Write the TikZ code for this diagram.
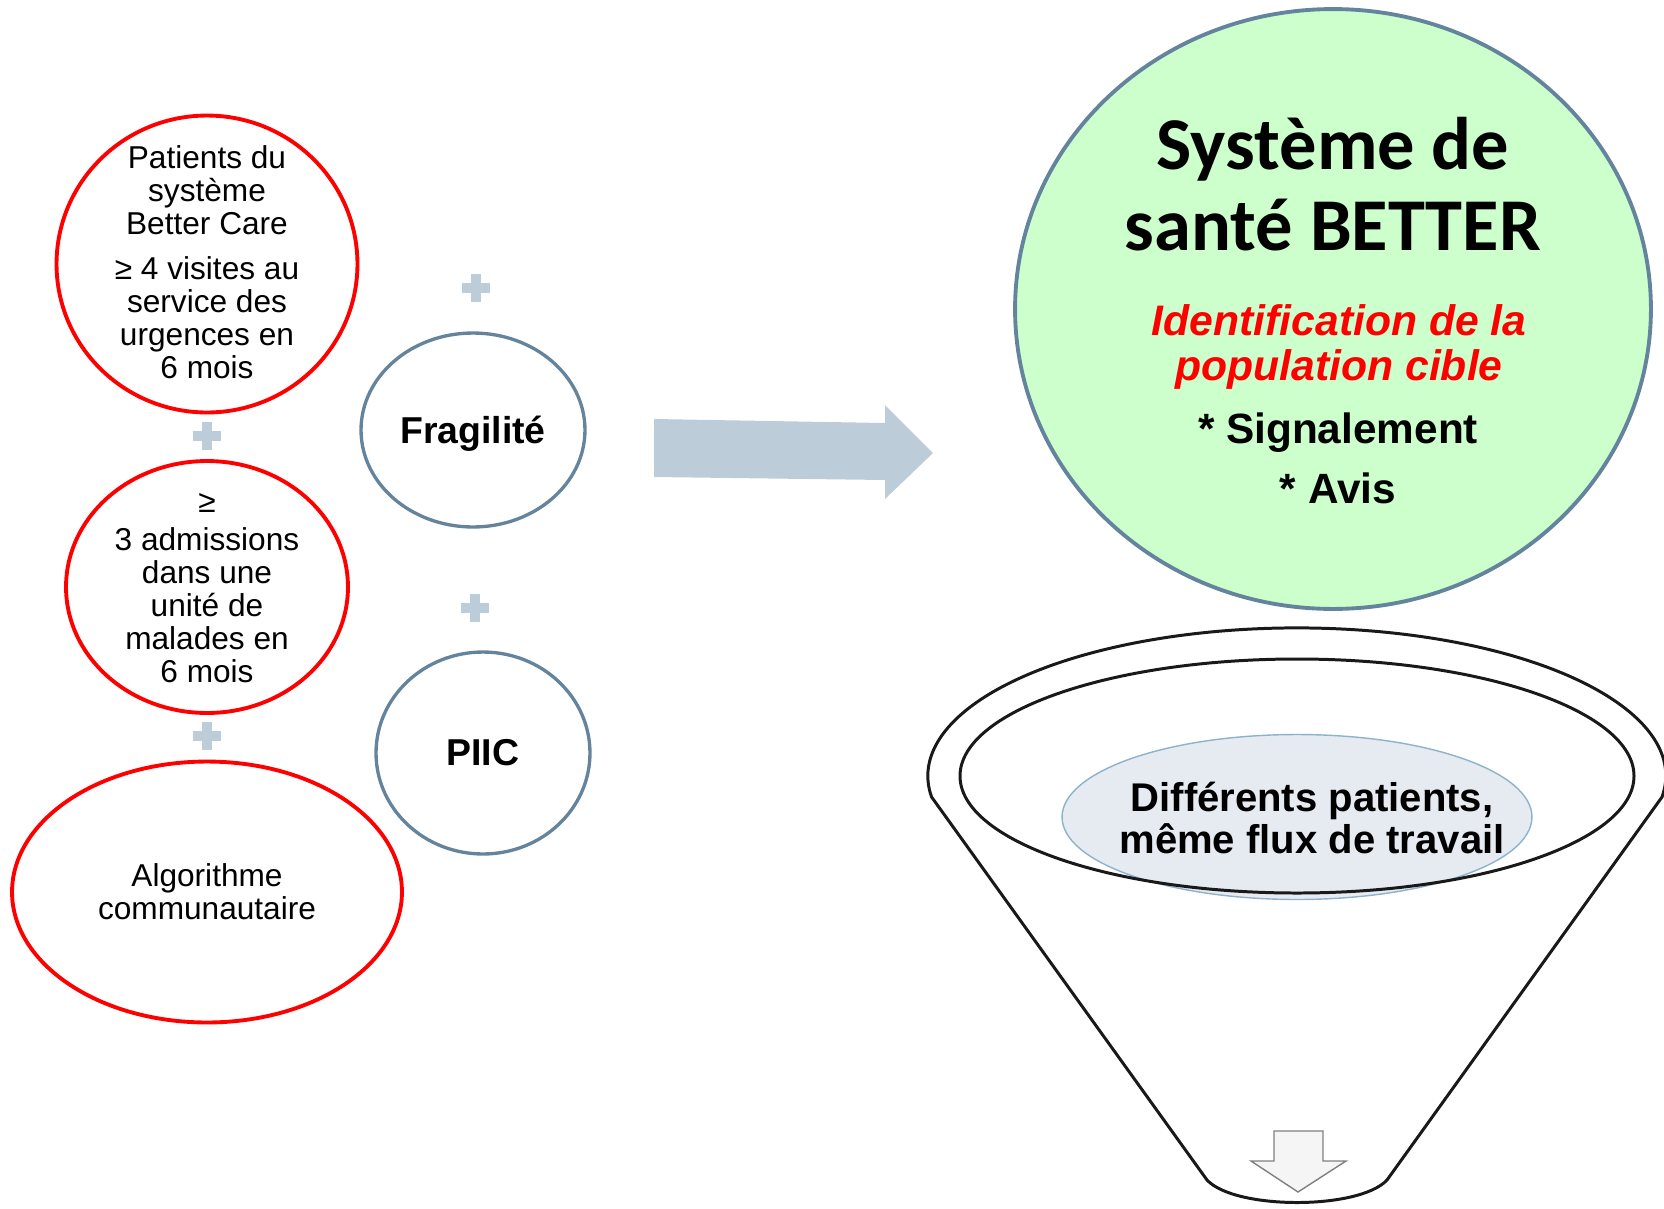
\documentclass[tikz,border=0pt]{standalone}
\usepackage{fontspec}
\setmainfont{Liberation Sans}
\newfontfamily\carlito{Carlito}
\usetikzlibrary{shapes.geometric}
\definecolor{critred}{RGB}{255,0,0}
\definecolor{slateline}{RGB}{100,132,158}
\definecolor{mintfill}{RGB}{204,255,204}
\definecolor{steelpale}{RGB}{188,204,216}
\definecolor{mistfill}{RGB}{230,235,242}
\definecolor{mistline}{RGB}{140,178,204}

\begin{document}
\begin{tikzpicture}[x=0.02cm, y=-0.02cm,
  bubble/.style={draw, ellipse, inner sep=0pt},
  critbubble/.style={bubble, draw=critred, line width=2.2pt},
  slatebubble/.style={bubble, draw=slateline, line width=1.9pt, font=\fontsize{21.3}{24}\selectfont\bfseries},
  bubbletext/.style={align=center, font=\fontsize{18}{18.8}\selectfont},
  funnelline/.style={line width=1.7pt, black!90}
]
  \useasboundingbox (0,0) rectangle (1664,1208);

  % target system
  \node[bubble, draw=slateline, fill=mintfill, line width=2.2pt, minimum width=12.72cm, minimum height=12cm] (better) at (1333,309) {};
  \node[font=\fontsize{42.4}{46}\carlito\bfseries, align=center] (title) at (1333,184) {Système de\\santé BETTER};
  \node[font=\fontsize{24.3}{25.6}\selectfont\bfseries\itshape, text=critred, align=center] (target) at (1339,347) {Identification de la\\population cible};
  \node[font=\fontsize{24.1}{34}\selectfont\bfseries, align=center] (tasks) at (1338,458) {* Signalement\\* Avis};

  % big arrow
  \fill[steelpale] (654,419) -- (885,423) -- (885,405) -- (933,453) -- (885,499) -- (885,480) -- (654,477) -- cycle;

  % plus signs
  \foreach \px/\py in {207/436, 207/736, 476/288, 475/608} {
    \fill[steelpale] (\px-14,\py-4.75) rectangle (\px+14,\py+4.75);
    \fill[steelpale] (\px-4.75,\py-14) rectangle (\px+4.75,\py+14);
  }

  % criteria
  \node[critbubble, minimum width=6.02cm, minimum height=5.94cm] (visits) at (207,264) {};
  \node[bubbletext] (visits-txt) at (207,262) {Patients du\\système\\Better Care\\[7pt]≥ 4 visites au\\service des\\urgences en\\6 mois};
  \node[critbubble, minimum width=5.64cm, minimum height=5.04cm] (admits) at (207,587) {};
  \node[bubbletext] (admits-txt) at (207,588) {≥\\[3pt]3 admissions\\dans une\\unité de\\malades en\\6 mois};
  \node[critbubble, bubbletext, minimum width=7.8cm, minimum height=5.22cm] (algo) at (207,892) {Algorithme\\communautaire};
  \node[slatebubble, minimum width=4.48cm, minimum height=3.88cm, text depth=0pt] (frail) at (473,430) {Fragilité};
  \node[slatebubble, minimum width=4.28cm, minimum height=4.04cm] (piic) at (483,753) {PIIC};

  % funnel
  \node[bubble, draw=mistline, fill=mistfill, line width=0.8pt, minimum width=9.4cm, minimum height=3.3cm] (flow) at (1297,817) {};
  \draw[funnelline] (1662,797) arc[start angle=8.2, end angle=-188.2, x radius=369, y radius=148]
    -- (1207,1180) .. controls (1235,1210) and (1359,1210) .. (1387,1180) -- cycle;
  \draw[funnelline] (1297,776) ellipse[x radius=337, y radius=117];
  \node[font=\fontsize{22.8}{23.8}\selectfont\bfseries, align=center] (sameflow) at (1312,818) {Différents patients,\\même flux de travail};
  \draw[fill=black!4, draw=black!50, line width=0.8pt] (1274,1131) -- (1323,1131) -- (1323,1161) -- (1346,1161)
    -- (1298,1192) -- (1251,1161) -- (1274,1161) -- cycle;
\end{tikzpicture}
\end{document}
